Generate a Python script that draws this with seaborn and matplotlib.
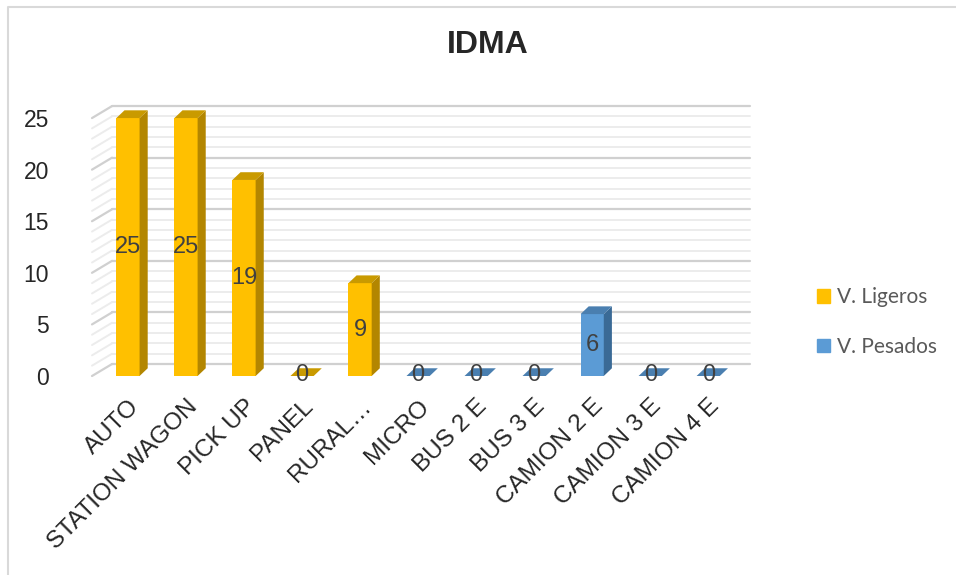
import pandas as pd
import matplotlib.pyplot as plt
import seaborn as sns
from matplotlib.patches import Polygon, Rectangle
from matplotlib.lines import Line2D

# Data
categories = ["AUTO", "STATION WAGON", "PICK UP", "PANEL", "RURAL\u2026",
              "MICRO", "BUS 2 E", "BUS 3 E", "CAMION 2 E", "CAMION 3 E", "CAMION 4 E"]
groups = ["V. Ligeros"] * 5 + ["V. Pesados"] * 6
counts = [25, 25, 19, 0, 9, 0, 0, 0, 6, 0, 0]

df = pd.DataFrame({"Tipo": categories, "Grupo": groups, "Cantidad": counts})

front = {"V. Ligeros": "#FFC000", "V. Pesados": "#5B9BD5"}
side = {"V. Ligeros": "#B38600", "V. Pesados": "#3A6A96"}
top = {"V. Ligeros": "#C99A00", "V. Pesados": "#4A7FB0"}

sns.set_style("white")
plt.rcParams['font.family'] = ['Liberation Sans', 'DejaVu Sans']

fig = plt.figure(figsize=(9.56, 5.75), dpi=100)
ax = fig.add_axes([92 / 956, 1 - 376 / 575, 658 / 956, 276 / 575])

sns.barplot(data=df, x="Tipo", y="Cantidad", hue="Grupo", order=categories,
            palette=front, saturation=1, dodge=False, width=0.4, ax=ax, legend=False,
            edgecolor="none", zorder=3)

x0, x1 = -0.62, 10.72
ax.set_xlim(x0, x1)
ax.set_ylim(0, 26.75)

# back wall grid (pseudo 3D)
gdx, gdy = 0.345, 1.16
for v in range(0, 26):
    major = v % 5 == 0
    c = "#d0d0d0" if major else "#ececec"
    lw = 1.6 if major else 1.4
    ax.plot([x0 + gdx, x1], [v + gdy, v + gdy], color=c, lw=lw, zorder=0, clip_on=False)
    ax.plot([x0, x0 + gdx], [v, v + gdy], color=c, lw=lw, zorder=0, clip_on=False)

# depth faces of the bars
bdx, bdy = 0.14, 0.75
for bar, grp, val in zip(sorted([p for c in ax.containers for p in c], key=lambda p: p.get_x()),
                         groups, counts):
    bx, bw, h = bar.get_x(), bar.get_width(), bar.get_height()
    ax.add_patch(Polygon([(bx + bw, 0), (bx + bw + bdx, bdy), (bx + bw + bdx, h + bdy), (bx + bw, h)],
                         closed=True, facecolor=side[grp], edgecolor="none", zorder=3))
    ax.add_patch(Polygon([(bx, h), (bx + bdx, h + bdy), (bx + bw + bdx, h + bdy), (bx + bw, h)],
                         closed=True, facecolor=top[grp], edgecolor="none", zorder=3))
    ax.text(bx + bw / 2, h / 2 if h > 0 else 0.05, str(val), ha="center", va="center",
            fontsize=17, color="#404040", zorder=5)

ax.set_yticks(range(0, 26, 5))
ax.tick_params(axis="y", labelsize=16.5, length=0, pad=31)
ax.tick_params(axis="x", labelsize=17.5, length=0, pad=14)
plt.setp(ax.get_xticklabels(), rotation=45, ha="right", rotation_mode="anchor")
ax.set_xlabel("")
ax.set_ylabel("")
for s in ax.spines.values():
    s.set_visible(False)
ax.grid(False)

fig.suptitle("IDMA", x=488 / 956, y=1 - 45 / 575, va="center", fontsize=23, fontweight="bold")

handles = [Rectangle((0, 0), 1, 1, color=front[g]) for g in ["V. Ligeros", "V. Pesados"]]
fig.legend(handles, ["V. Ligeros", "V. Pesados"], loc="center left",
           bbox_to_anchor=(817 / 956, 1 - 322 / 575), frameon=False,
           borderpad=0, borderaxespad=0,
           prop={"family": "Lato", "size": 15}, labelcolor="#595959",
           handlelength=0.6, handleheight=0.6, handletextpad=0.35, labelspacing=1.4)

# chart frame: top and left edges
fig.lines.append(Line2D([7.5 / 956, 7.5 / 956, 1], [0, 1 - 6.5 / 575, 1 - 6.5 / 575],
                        transform=fig.transFigure, color="#d9d9d9", lw=1.5))

plt.savefig("out.png", dpi=100)
